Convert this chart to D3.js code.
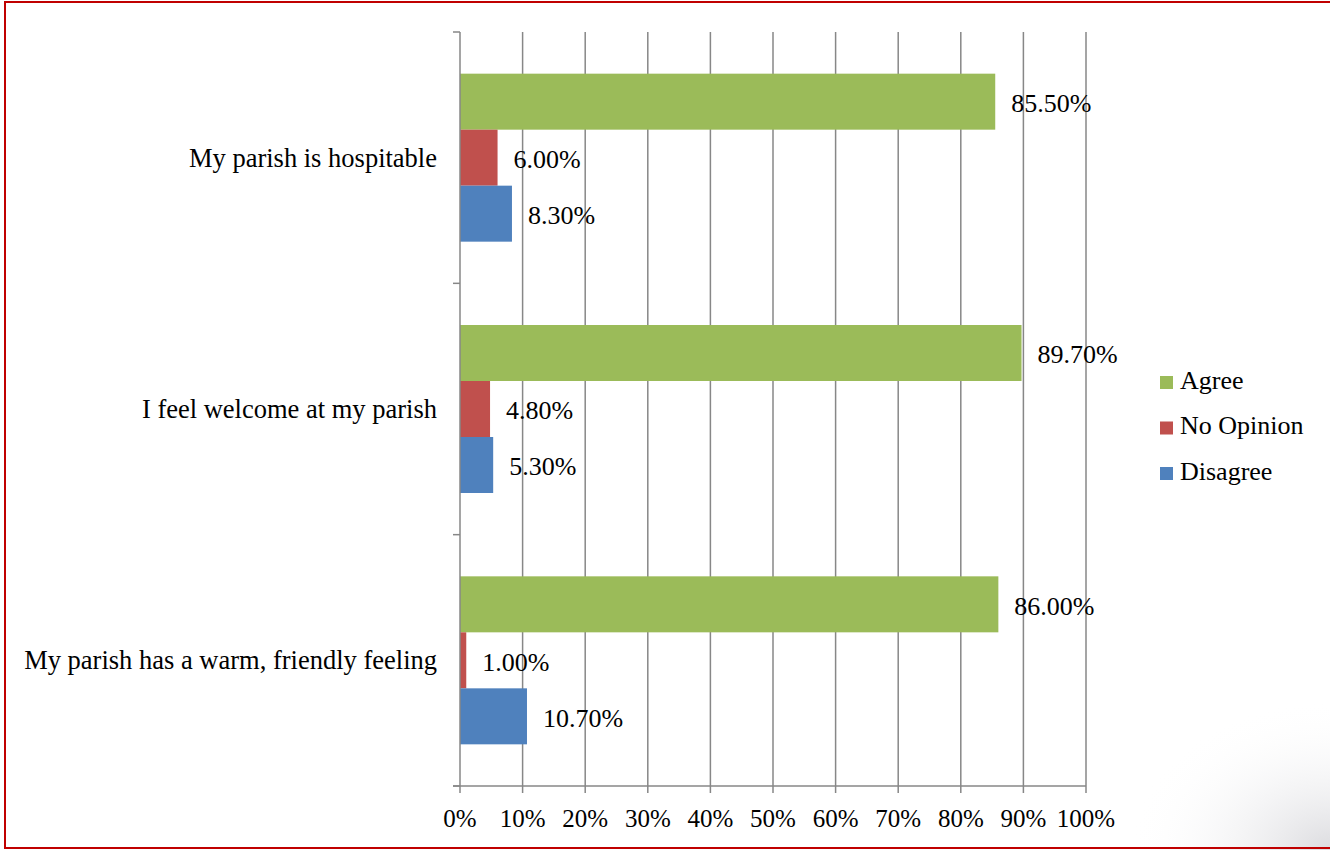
<!DOCTYPE html>
<html><head><meta charset="utf-8">
<script src="https://cdn.jsdelivr.net/npm/d3@7"></script>
<style>body{margin:0;background:#fff}svg{display:block}</style>
</head><body>
<svg id="chart" width="1330" height="850"></svg>
<script>
const categories = ["My parish is hospitable", "I feel welcome at my parish", "My parish has a warm, friendly feeling"];
const seriesNames = ["Agree", "No Opinion", "Disagree"];
const agree = [85.5, 89.7, 86.0];
const noOpinion = [6.0, 4.8, 1.0];
const disagree = [8.3, 5.3, 10.7];
const tickValues = [0,10,20,30,40,50,60,70,80,90,100];
const colors = ["#9BBB59", "#C0504D", "#4F81BD"];

(function(){
const seriesValues = [agree, noOpinion, disagree];
const svg = d3.select("#chart");
const font = "'Liberation Serif','Times New Roman',serif";

const defs = svg.append("defs");
const rg = defs.append("radialGradient").attr("id","corner").attr("cx","1").attr("cy","1").attr("r","1");
rg.append("stop").attr("offset","0").attr("stop-color","#d8d8dc").attr("stop-opacity",0.9);
rg.append("stop").attr("offset","1").attr("stop-color","#ffffff").attr("stop-opacity",0);
svg.append("rect").attr("x",1130).attr("y",700).attr("width",200).attr("height",150).attr("fill","url(#corner)");

svg.append("rect").attr("x",5).attr("y",2).attr("width",1340).attr("height",846)
  .attr("fill","none").attr("stroke","#C00000").attr("stroke-width",2);

const pL = 460, pR = 1086, pT = 32, pB = 786;
const x = d3.scaleLinear().domain([0,100]).range([pL,pR]);
const yOuter = d3.scaleBand().domain(categories).range([pT,pB]);
const inner = 168;
const yInner = d3.scaleBand().domain(seriesNames).range([0,inner]);

svg.append("g").selectAll("line").data(tickValues.filter(d=>d>0)).join("line")
  .attr("x1",d=>x(d)).attr("x2",d=>x(d)).attr("y1",pT).attr("y2",pB+7)
  .attr("stroke","#878787").attr("stroke-width",1.5);

const groups = svg.append("g").selectAll("g").data(categories).join("g")
  .attr("transform",c=>`translate(0,${yOuter(c)+(yOuter.bandwidth()-inner)/2})`);
groups.each(function(c,i){
  const g = d3.select(this);
  seriesNames.forEach((s,j)=>{
    const v = seriesValues[j][i];
    g.append("rect").attr("x",x(0)).attr("y",yInner(s)).attr("width",x(v)-x(0)).attr("height",yInner.bandwidth())
      .attr("fill",colors[j]);
    g.append("text").attr("x",x(v)+16).attr("y",yInner(s)+yInner.bandwidth()/2).attr("dy","0.4em")
      .attr("font-family",font).attr("font-size",26).attr("fill","#000").text(v.toFixed(2)+"%");
  });
});

svg.append("line").attr("x1",pL).attr("x2",pL).attr("y1",pT).attr("y2",pB).attr("stroke","#878787").attr("stroke-width",1.5);
const yTicks = [pT].concat(categories.map(c=>yOuter(c)+yOuter.bandwidth()));
svg.append("g").selectAll("line").data(yTicks).join("line")
  .attr("x1",pL-7).attr("x2",pL).attr("y1",d=>d).attr("y2",d=>d).attr("stroke","#878787").attr("stroke-width",1.5);
svg.append("g").selectAll("text").data(categories).join("text")
  .attr("x",437).attr("y",c=>yOuter(c)+yOuter.bandwidth()/2).attr("dy","0.34em").attr("text-anchor","end")
  .attr("font-family",font).attr("font-size",26.5).attr("fill","#000").text(c=>c);

svg.append("line").attr("x1",pL-7).attr("x2",pR).attr("y1",pB).attr("y2",pB).attr("stroke","#878787").attr("stroke-width",1.5);
svg.append("line").attr("x1",pL).attr("x2",pL).attr("y1",pB).attr("y2",pB+7).attr("stroke","#878787").attr("stroke-width",1.5);
svg.append("g").selectAll("text").data(tickValues).join("text")
  .attr("x",d=>x(d)).attr("y",827).attr("text-anchor","middle")
  .attr("font-family",font).attr("font-size",25).attr("fill","#000").text(d=>d+"%");

const lg = svg.append("g").selectAll("g").data(seriesNames).join("g")
  .attr("transform",(d,i)=>`translate(1160,${381+i*45.5})`);
lg.append("rect").attr("x",0).attr("y",-5).attr("width",13).attr("height",13).attr("fill",(d,i)=>colors[i]);
lg.append("text").attr("x",20).attr("y",0).attr("dy","0.3em").attr("font-family",font).attr("font-size",26).attr("fill","#000").text(d=>d);
})();
</script>
</body></html>
